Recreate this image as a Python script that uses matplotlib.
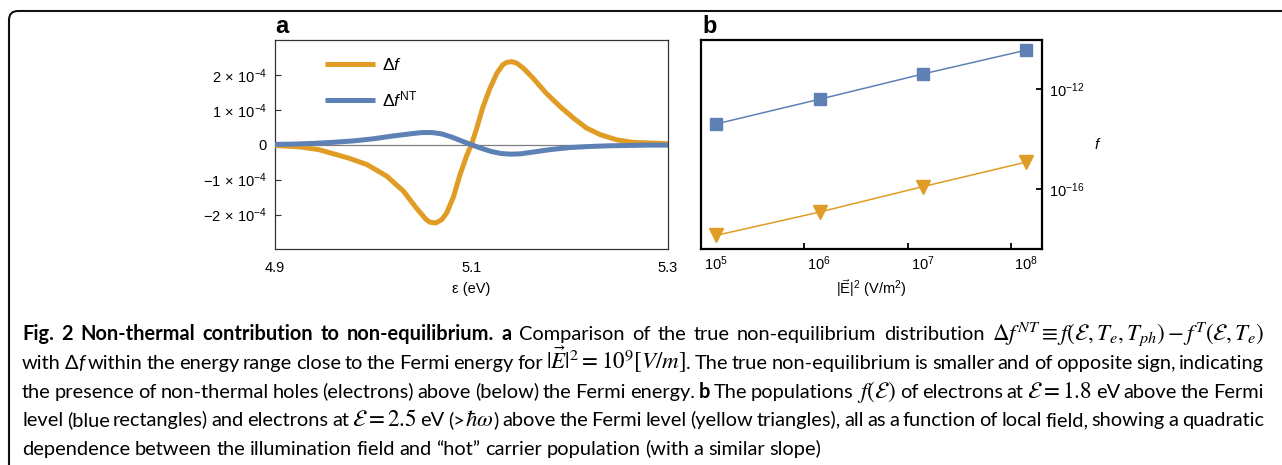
import matplotlib
matplotlib.use("Agg")
import matplotlib.pyplot as plt
import matplotlib.transforms as mtransforms
from matplotlib.patches import FancyBboxPatch
import numpy as np

# ---------------- data ----------------
# panel a: energy (eV) and distributions (units of 1e-4)
energy = [4.900, 4.925, 4.945, 4.960, 4.975, 4.994, 5.014, 5.031, 5.044, 5.054,
          5.058, 5.064, 5.070, 5.075, 5.082, 5.088, 5.095, 5.100, 5.105, 5.112,
          5.119, 5.126, 5.132, 5.136, 5.141, 5.146, 5.153, 5.163, 5.176, 5.190,
          5.204, 5.217, 5.231, 5.248, 5.264, 5.300]
delta_f = [-0.02, -0.06, -0.14, -0.26, -0.38, -0.57, -0.90, -1.33, -1.81, -2.14,
           -2.22, -2.24, -2.14, -1.95, -1.48, -0.90, -0.33, 0.00, 0.43, 1.10,
           1.62, 2.05, 2.29, 2.36, 2.38, 2.34, 2.19, 1.90, 1.48, 1.10,
           0.76, 0.48, 0.29, 0.14, 0.07, 0.03]
energy_nt = [4.90, 4.92, 4.94, 4.96, 4.98, 5.00, 5.02, 5.04, 5.05, 5.06,
             5.07, 5.08, 5.09, 5.10, 5.11, 5.12, 5.13, 5.14, 5.15, 5.16,
             5.17, 5.18, 5.19, 5.20, 5.22, 5.24, 5.26, 5.28, 5.30]
delta_f_nt = [0.01, 0.02, 0.04, 0.07, 0.11, 0.17, 0.25, 0.32, 0.35, 0.35,
              0.31, 0.22, 0.11, 0.00, -0.10, -0.19, -0.25, -0.27, -0.26, -0.22,
              -0.18, -0.14, -0.11, -0.08, -0.05, -0.03, -0.02, -0.01, -0.01]
a_xticks = [4.9, 5.1, 5.3]
a_xticklabels = ["4.9", "5.1", "5.3"]
a_yticks = [2e-4, 1e-4, 0, -1e-4, -2e-4]
a_yticklabels = [r"$2\,\times\,10^{-4}$", r"$1\,\times\,10^{-4}$", "0",
                 r"$-1\,\times\,10^{-4}$", r"$-2\,\times\,10^{-4}$"]

# panel b: |E|^2 (V/m^2) and populations
field2 = [1.4e5, 1.4e6, 1.4e7, 1.4e8]
f_blue = [4.0e-14, 3.9e-13, 4.0e-12, 3.6e-11]
f_orange = [1.4e-18, 1.2e-17, 1.25e-16, 1.2e-15]
b_xticks = [1e5, 1e6, 1e7, 1e8]
b_xticklabels = [r"$10^{5}$", r"$10^{6}$", r"$10^{7}$", r"$10^{8}$"]
b_yticks = [1e-16, 1e-12]
b_yticklabels = [r"$10^{-16}$", r"$10^{-12}$"]

ORANGE = "#E09C24"
BLUE = "#5E81B5"

# ---------------- style ----------------
plt.rcParams["font.family"] = ["Liberation Sans", "DejaVu Sans"]
plt.rcParams["mathtext.fontset"] = "custom"
plt.rcParams["mathtext.rm"] = "Liberation Sans"
plt.rcParams["mathtext.it"] = "Liberation Sans:italic"
plt.rcParams["mathtext.bf"] = "Liberation Sans:bold"
plt.rcParams["mathtext.sf"] = "Liberation Sans"

W, H = 1282, 465
fig = plt.figure(figsize=(W / 100, H / 100), dpi=100)

def fx(px):
    return px / W

def fy(py):
    return 1 - py / H

# ---------------- panel a ----------------
axa = fig.add_axes([fx(274.7), fy(249.5), fx(668) - fx(274.7), fy(40) - fy(249.5)])
axa.axhline(0, color="#7f7f7f", lw=0.9, zorder=1)
axa.plot(energy, np.array(delta_f) * 1e-4, color=ORANGE, lw=3.6,
         solid_joinstyle="round", solid_capstyle="butt", label=r"$\Delta f$", zorder=3)
axa.plot(energy_nt, np.array(delta_f_nt) * 1e-4, color=BLUE, lw=3.6,
         solid_joinstyle="round", solid_capstyle="butt",
         label=r"$\Delta f^{\mathrm{NT}}$", zorder=3)
axa.set_xlim(4.9, 5.3)
axa.set_ylim(-3e-4, 3e-4)
axa.set_xticks(a_xticks)
axa.set_xticklabels(a_xticklabels)
axa.set_yticks(a_yticks)
axa.set_yticklabels(a_yticklabels)
axa.tick_params(axis="y", direction="in", length=4, width=0.8, pad=5.5,
                labelsize=10.5, color="#333333")
axa.tick_params(axis="x", length=0, pad=8, labelsize=10.5)
for s in axa.spines.values():
    s.set_linewidth(0.9)
    s.set_color("#333333")
axa.set_xlabel("ε (eV)", fontsize=10.5, labelpad=5)
leg = axa.legend(loc="upper left", bbox_to_anchor=(0.128, 0.92), frameon=False,
                 fontsize=12.5, handlelength=2.9, handletextpad=0.4,
                 labelspacing=0.95, borderpad=0, borderaxespad=0)
fig.text(fx(275), fy(33), "a", fontsize=17, fontweight="bold", va="baseline", ha="left")

# ---------------- panel b ----------------
axb = fig.add_axes([fx(701), fy(249.3), fx(1041.7) - fx(701), fy(40) - fy(249.3)])
axb.plot(field2, f_blue, color=BLUE, lw=1.1, marker="s", ms=8.6, mec=BLUE, mfc=BLUE)
axb.plot(field2, f_orange, color=ORANGE, lw=1.1, marker="v", ms=9.5, mec=ORANGE, mfc=ORANGE)
axb.set_xscale("log")
axb.set_yscale("log")
axb.set_xlim(1e5, 10 ** 8.294)
axb.set_ylim(10 ** -18.41, 10 ** -10.04)
axb.set_xticks(b_xticks)
axb.set_xticklabels(b_xticklabels)
axb.set_yticks(b_yticks)
axb.set_yticklabels(b_yticklabels)
axb.minorticks_off()
axb.yaxis.tick_right()
axb.tick_params(axis="x", direction="in", length=4, width=1.3, pad=4, labelsize=10.5)
axb.tick_params(axis="y", direction="in", length=4, width=1.3, pad=5, labelsize=10.5,
                left=False, right=True)
for s in axb.spines.values():
    s.set_linewidth(1.6)
    s.set_color("black")
off = mtransforms.ScaledTranslation(3 / 100, 0, fig.dpi_scale_trans)
for lab in axb.get_xticklabels():
    lab.set_horizontalalignment("left")
    lab.set_transform(lab.get_transform() + off)
axb.set_xlabel(r"|$\vec{\mathrm{E}}$|$^2$ (V/m$^2$)", fontsize=10.5, labelpad=3)
axb.yaxis.set_label_position("right")
axb.set_ylabel("f", rotation=0, fontstyle="italic", fontsize=11, labelpad=9, va="center")
fig.text(fx(702), fy(33), "b", fontsize=17, fontweight="bold", va="baseline", ha="left")

# ---------------- frame ----------------
frame = FancyBboxPatch((9, -60), 1400, 465 - 11 + 60,
                       boxstyle="round,pad=0,rounding_size=9",
                       transform=mtransforms.IdentityTransform(),
                       fill=False, lw=1.5, ec="#111111", clip_on=False)
fig.add_artist(frame)

# ---------------- caption ----------------
CAP_FAMILY = "Lato"
STYLES = {
    "r": dict(family=CAP_FAMILY),
    "b": dict(family=CAP_FAMILY, weight="bold"),
    "i": dict(family=CAP_FAMILY, style="italic"),
    "m": dict(family=CAP_FAMILY, math_fontfamily="stix"),
}
MATH_SCALE = 1.15

caption_lines = [
    [("Fig. 2 Non-thermal contribution to non-equilibrium.", "b"), (" ", "r"), ("a", "b"),
     (" Comparison of the true non-equilibrium distribution ", "r"),
     (r"$\Delta f^{NT} \equiv f(\mathcal{E}, T_e, T_{ph}) - f^{T}(\mathcal{E}, T_e)$", "m")],
    [("with Δ", "r"), ("f", "i"), (" within the energy range close to the Fermi energy for ", "r"),
     (r"$|\vec{E}|^2 = 10^9[V/m]$", "m"),
     (". The true non-equilibrium is smaller and of opposite sign, indicating", "r")],
    [("the presence of non-thermal holes (electrons) above (below) the Fermi energy. ", "r"),
     ("b", "b"), (" The populations ", "r"), (r"$f(\mathcal{E})$", "m"),
     (" of electrons at ", "r"), (r"$\mathcal{E} = 1.8$", "m"), (" eV above the Fermi", "r")],
    [("level (blue rectangles) and electrons at ", "r"), (r"$\mathcal{E} = 2.5$", "m"),
     (" eV (>", "r"), (r"$\hbar\omega$", "m"),
     (") above the Fermi level (yellow triangles), all as a function of local field, showing a quadratic", "r")],
    [("dependence between the illumination field and “hot” carrier population (with a similar slope)", "r")],
]
baselines = [340, 369, 397.5, 426, 454.5]
X0, X1 = 22, 1264

renderer = fig.canvas.get_renderer()

def split_words(frags):
    words, cur = [], []
    for text, st in frags:
        if st == "m":
            cur.append((text, st))
            continue
        parts = text.split(" ")
        for i, p in enumerate(parts):
            if i > 0:
                if cur:
                    words.append(cur)
                cur = []
            if p:
                cur.append((p, st))
    if cur:
        words.append(cur)
    return words

def frag_size(st, size):
    return size * MATH_SCALE if st == "m" else size

def measure(text, st, size):
    t = fig.text(0, 0, text, fontsize=frag_size(st, size), **STYLES[st])
    w = t.get_window_extent(renderer).width
    t.remove()
    return w

SPACE_EM = 0.17

def natural_width(frags, size):
    words = split_words(frags)
    ww = sum(sum(measure(t, s, size) for t, s in wd) for wd in words)
    return ww + SPACE_EM * size * 100 / 72 * (len(words) - 1)

base = 10.0
nat = max(natural_width(fr, base) for fr in caption_lines[:4])
cap_size = base * (X1 - X0) / nat

for li, frags in enumerate(caption_lines):
    words = split_words(frags)
    widths = [[measure(t, s, cap_size) for t, s in wd] for wd in words]
    total = sum(sum(w) for w in widths)
    if li < 4:
        gap = (X1 - X0 - total) / (len(words) - 1)
    else:
        gap = 0.23 * cap_size * 100 / 72
    x = X0
    for wd, wl in zip(words, widths):
        xx = x
        for (t, s), w in zip(wd, wl):
            fig.text(fx(xx), fy(baselines[li]), t, fontsize=frag_size(s, cap_size),
                     va="baseline", ha="left", **STYLES[s])
            xx += w
        x = xx + gap

fig.savefig("out.png", dpi=100)
